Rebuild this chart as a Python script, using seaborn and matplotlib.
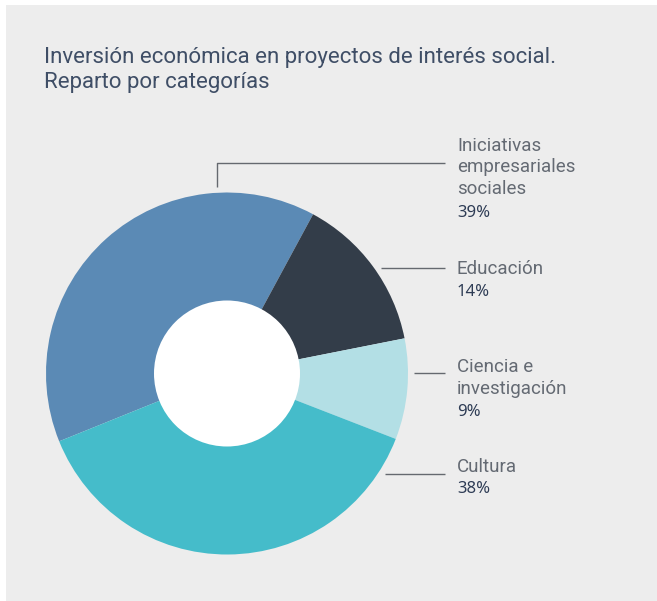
import numpy as np
import matplotlib
matplotlib.use("Agg")
import matplotlib.pyplot as plt
from matplotlib.patches import Rectangle, Circle
import seaborn as sns

# Data
categories = ["Iniciativas empresariales sociales", "Educación", "Ciencia e investigación", "Cultura"]
label_lines = [["Iniciativas", "empresariales", "sociales"], ["Educación"], ["Ciencia e", "investigación"], ["Cultura"]]
shares = [39, 14, 9, 38]
share_labels = ["39%", "14%", "9%", "38%"]

title_text = "Inversión económica en proyectos de interés social.\nReparto por categorías"

sns.set_style("white")
palette = sns.color_palette(["#5b8ab5", "#333d49", "#b3dfe5", "#45bcca"])

W, H = 657, 601
fig = plt.figure(figsize=(W / 100, H / 100), dpi=100, facecolor="white")
ax = fig.add_axes([0, 0, 1, 1])


def py(y):
    # pixel row (from top) -> data y
    return H - y


# Grey panel
ax.add_patch(Rectangle((6, 0), W - 6, H - 5, facecolor="#ededed", edgecolor="none", zorder=0))

cx, cy, R, r_hole = 227, 373.5, 181, 73
ax.pie(shares, colors=palette, startangle=202, counterclock=False,
       center=(cx, py(cy)), radius=R, wedgeprops=dict(linewidth=0, antialiased=True))
ax.add_patch(Circle((cx, py(cy)), r_hole, facecolor="white", edgecolor="none", zorder=5))

# Title (baseline of the last line)
ax.text(44, py(88), title_text, ha="left", va="baseline", fontsize=16,
        family="Roboto", color="#3f4e66", linespacing=1.26)

# Leader lines and labels
gap = 6
line_end = 445
text_x = 457
line_color = "#65696f"

# Iniciativas: elbow connector rising from the top of the ring
elbow_x, elbow_y = 217, 163
y_start = cy - np.sqrt((R + gap) ** 2 - (elbow_x - cx) ** 2)
ax.plot([elbow_x, elbow_x, line_end], [py(y_start), py(elbow_y), py(elbow_y)],
        color=line_color, lw=1, solid_capstyle="butt", zorder=6)

# Straight connectors for the remaining categories
for yl in [268, 373, 474]:
    x_start = cx + np.sqrt((R + gap) ** 2 - (yl - cy) ** 2)
    ax.plot([x_start, line_end], [py(yl), py(yl)], color=line_color, lw=1,
            solid_capstyle="butt", zorder=6)

name_rows = [[151, 172.5, 194], [274.5], [372, 394], [472]]
pct_rows = [217, 296, 416.5, 493]
for lines, rows, pct, prow in zip(label_lines, name_rows, share_labels, pct_rows):
    for t, yb in zip(lines, rows):
        ax.text(text_x, py(yb), t, ha="left", va="baseline", fontsize=13.5,
                family="Roboto", fontweight="normal", color="#646a73")
    ax.text(text_x, py(prow), pct, ha="left", va="baseline", fontsize=12,
            family="Noto Sans", color="#2e3c55")

ax.set_xlim(0, W)
ax.set_ylim(0, H)
ax.set_aspect("equal")
ax.axis("off")
fig.savefig("out.png", dpi=100, facecolor="white")
